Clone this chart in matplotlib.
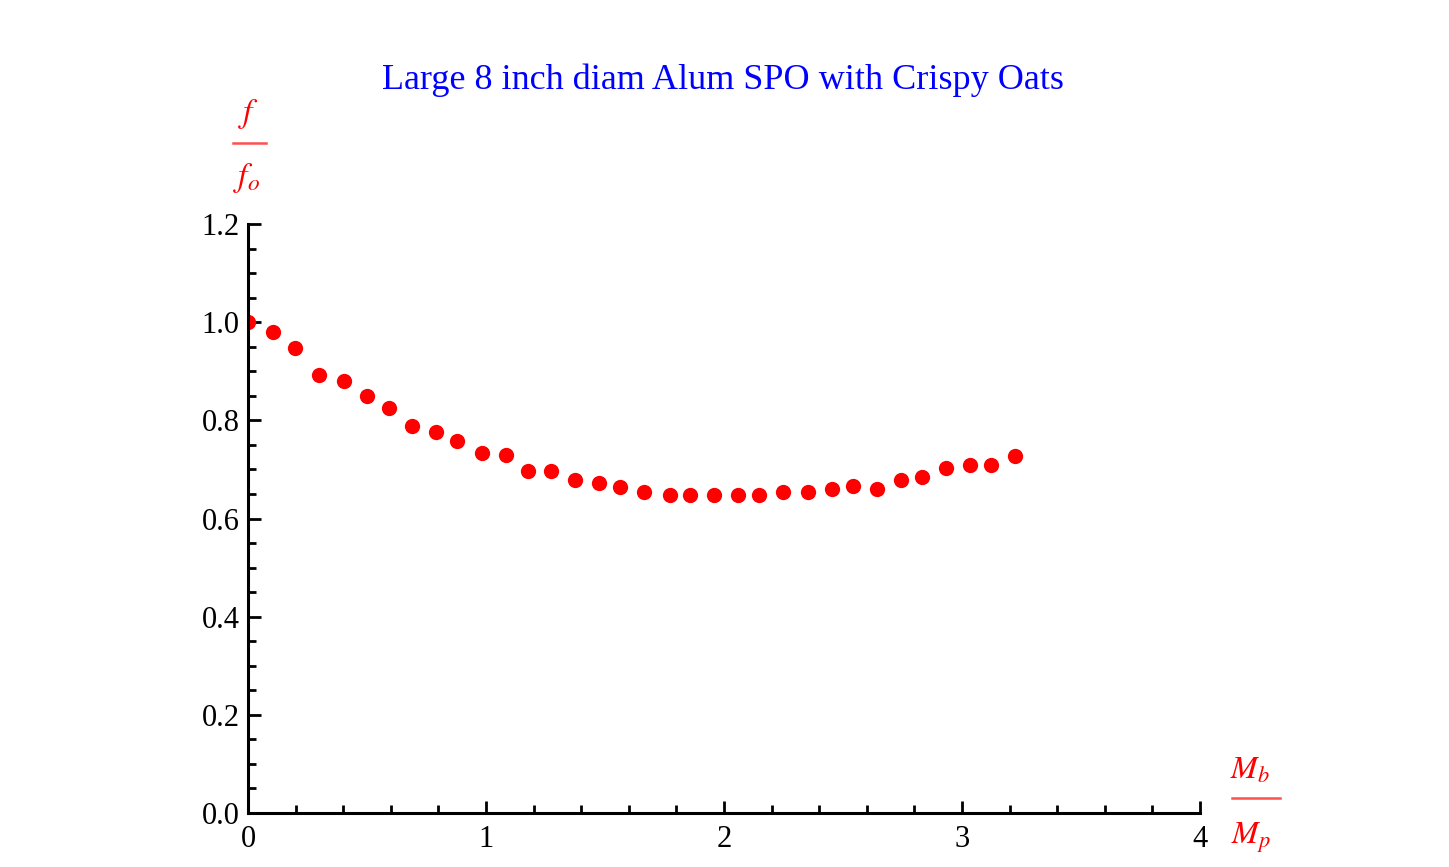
import numpy as np
import matplotlib
matplotlib.use('Agg')
import matplotlib.pyplot as plt
from matplotlib.ticker import MultipleLocator
from matplotlib.lines import Line2D

# values
mass_ratio = [0.0, 0.106, 0.197, 0.300, 0.402, 0.501, 0.591, 0.690, 0.791, 0.879,
              0.985, 1.084, 1.175, 1.274, 1.375, 1.476, 1.564, 1.665, 1.772, 1.858,
              1.959, 2.060, 2.148, 2.249, 2.352, 2.452, 2.543, 2.644, 2.745, 2.833,
              2.934, 3.035, 3.123, 3.224]
freq_ratio = [1.000, 0.979, 0.948, 0.893, 0.881, 0.850, 0.826, 0.789, 0.777, 0.758,
              0.734, 0.729, 0.697, 0.697, 0.678, 0.672, 0.665, 0.654, 0.647, 0.647,
              0.647, 0.647, 0.647, 0.654, 0.654, 0.660, 0.666, 0.660, 0.678, 0.684,
              0.703, 0.710, 0.710, 0.728]
x_ticks = [0, 1, 2, 3, 4]
y_ticks = [0.0, 0.2, 0.4, 0.6, 0.8, 1.0, 1.2]
title = 'Large 8 inch diam Alum SPO with Crispy Oats'

plt.rcParams['font.family'] = 'Liberation Serif'
plt.rcParams['mathtext.fontset'] = 'stix'

W, H = 1449, 867
fig = plt.figure(figsize=(W / 100, H / 100), dpi=100)
ax = fig.add_axes([0.1712, 0.0623, 0.6570, 0.6793])

ax.plot(mass_ratio, freq_ratio, 'o', color='red', markersize=11, markeredgewidth=0)

ax.set_xlim(0, 4)
ax.set_ylim(0, 1.2)
ax.set_xticks(x_ticks)
ax.set_xticklabels([str(t) for t in x_ticks])
ax.set_yticks(y_ticks)
ax.set_yticklabels([f'{t:.1f}' for t in y_ticks])
ax.xaxis.set_minor_locator(MultipleLocator(0.2))
ax.yaxis.set_minor_locator(MultipleLocator(0.05))

for s in ['top', 'right']:
    ax.spines[s].set_visible(False)
for s in ['left', 'bottom']:
    ax.spines[s].set_linewidth(2.2)

ax.tick_params(which='major', direction='in', length=9, width=2, labelsize=22)
ax.tick_params(which='minor', direction='in', length=5.5, width=2)
ax.tick_params(axis='x', which='major', pad=9)
ax.tick_params(axis='y', which='major', pad=6)

fig.text(723 / W, 1 - 80 / H, title, color='#0000ff', fontsize=26, ha='center', va='center')


def px_text(x, y, s, size):
    fig.text(x / W, 1 - y / H, s, color='red', fontsize=size, ha='center', va='center')


def px_rule(x0, x1, y):
    fig.add_artist(Line2D([x0 / W, x1 / W], [1 - y / H, 1 - y / H], color='#ff5050',
                          linewidth=1.8, transform=fig.transFigure))


# f / f_o label above the y axis
px_text(249, 114, r'$f$', 24)
px_rule(233, 266, 143)
px_text(247, 178, r'$f_o$', 24)

# M_b / M_p label right of the x axis
px_text(1250, 771, r'$M_b$', 23)
px_rule(1232, 1280, 798)
px_text(1251, 838, r'$M_p$', 23)

fig.savefig('out.png', dpi=100)
